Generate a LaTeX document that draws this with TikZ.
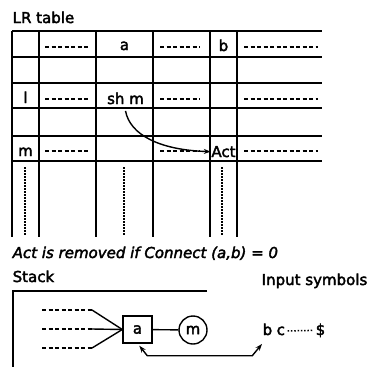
\documentclass[tikz,border=0pt]{standalone}
\usepackage{fontspec}
\newfontfamily\scanfont{DejaVu Sans}[FakeBold=2.5]
\usetikzlibrary{arrows.meta, positioning}

\begin{document}
\begin{tikzpicture}[x=1pt, y=-1pt, line width=1.4pt,
        lbl/.style={font=\fontsize{15}{18}\scanfont, inner sep=0pt},
        filler/.style={dash pattern=on 4pt off 2.5pt, line width=1.5pt},
        vdots/.style={dash pattern=on 1.6pt off 1.4pt, line width=1.8pt},
        tip/.style={-{Stealth[length=7pt, width=5pt]}}]

            \useasboundingbox (0,0) rectangle (369,367);

            % Settings
            \def\tabtop{31}
            \def\tabbot{237}
            \def\tabright{322}

            % Title
            \node[lbl, anchor=base west] (title) at (12,23) {LR table};

            % Table rows and columns
            \foreach \y in {31,57,83,108,136,161}
                \draw (12,\y) -- (\tabright,\y);
            \foreach \x in {12,39,96,153,210,237}
                \draw (\x,\tabtop) -- (\x,\tabbot);

            % Entries
            \node[lbl, anchor=base] (ha) at (124.5,50) {a};
            \node[lbl, anchor=base] (hb) at (223.5,51) {b};
            \node[lbl, anchor=base] (sl) at (25.5,103) {l};
            \node[lbl, anchor=base] (shm) at (125.5,104) {sh m};
            \node[lbl, anchor=base] (sm) at (25.5,156) {m};
            \node[lbl, anchor=base] (act) at (223.5,157) {Act};

            % Empty entries
            \foreach \y in {47,99,151} {
                    \draw[filler] (45,\y) -- (88,\y);
                    \draw[filler] (160,\y) -- (200,\y);
                    \draw[filler] (244,\y) -- (318,\y);
                }
            \foreach \x in {25,124,222}
                \draw[vdots] (\x,167) -- (\x,235);

            % Shift to Act
            \draw[tip] ([yshift=-6pt]shm.south) .. controls (130,135) and (160,150) .. (act.west);

            % Note and headings
            \node[lbl, font=\fontsize{15}{18}\scanfont\itshape, anchor=base west] (note) at (12,258) {Act is removed if Connect (a,b) = 0};
            \node[lbl, anchor=base west] (stack) at (12,282) {Stack};
            \node[lbl, anchor=base east] (input) at (368,285) {Input symbols};

            % Stack
            \draw (207,291) -- (13,291) -- (13,367);
            \node[lbl, draw, minimum width=29pt, minimum height=27pt] (boxa) at (137.5,329.5) {a};
            \node[lbl, draw, circle, minimum size=28pt] (cm) at (193,330) {m};
            \draw (boxa) -- (cm);
            \foreach \y/\nm in {310/s1, 329/s2, 348/s3} {
                    \coordinate (\nm) at (92,\y);
                    \draw[filler] (42,\y) -- (\nm);
                    \draw (\nm) -- (boxa.west);
                }

            % Input symbols
            \node[lbl, anchor=base west] (inb) at (262,335) {b};
            \node[lbl, anchor=base west] (inc) at (276,335) {c};
            \node[lbl, anchor=base west] (indol) at (315,335) {\$};
            \draw[dash pattern=on 1.5pt off 1.8pt, line width=1.5pt] ([xshift=2pt]inc.east) -- ([xshift=-2pt]indol.west);

            % Link back
            \draw[{Stealth[length=7pt, width=5pt]}-{Stealth[length=7pt, width=5pt]}] ([shift={(17,2)}]boxa.south west) -- ++(8,10) -- ++(105,0) -- ([shift={(0,8)}]inb.south west);
        \end{tikzpicture}
\end{document}
